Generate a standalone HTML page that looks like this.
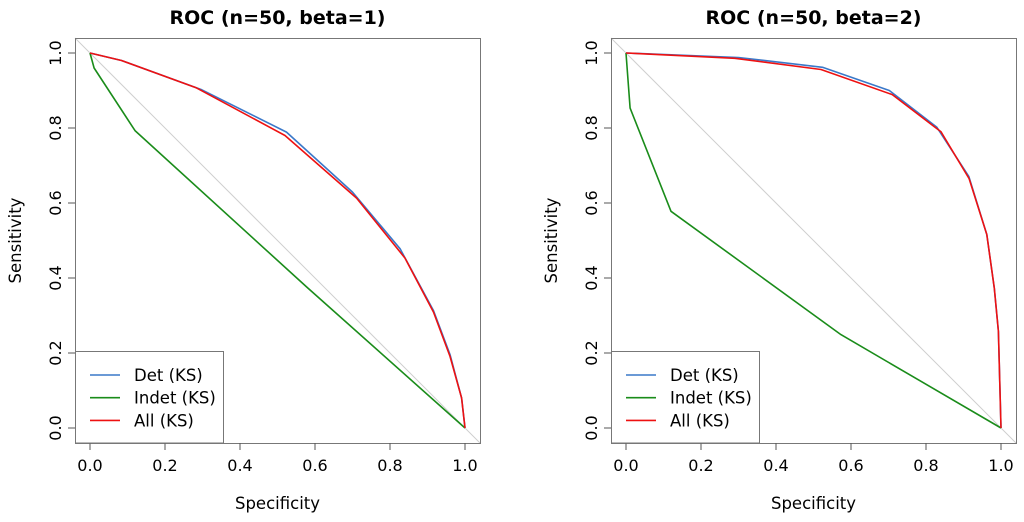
<!DOCTYPE html>
<html><head><meta charset="utf-8"><style>
body{margin:0;background:#fff;}
svg{display:block;font-family:"DejaVu Sans","Liberation Sans",sans-serif;}
</style></head><body>
<svg id="chart" width="1024" height="522" viewBox="0 0 1024 522"></svg>
<script>
const ticks=[0,0.2,0.4,0.6,0.8,1.0];
const tickLabels=["0.0","0.2","0.4","0.6","0.8","1.0"];
const seriesNames=["Det (KS)","Indet (KS)","All (KS)"];
const seriesColors=["#3a78c9","#1a8c1a","#ee1111"];
// panel 1 (beta=1)
const p1DetX=[0,0.084,0.298,0.524,0.70,0.827,0.916,0.96,0.991,1];
const p1DetY=[1,0.98,0.902,0.789,0.629,0.478,0.313,0.196,0.08,0];
const p1IndX=[0,0.011,0.12,0.579,1];
const p1IndY=[1,0.96,0.793,0.375,0];
const p1AllX=[0,0.084,0.284,0.52,0.711,0.84,0.916,0.96,0.991,1];
const p1AllY=[1,0.98,0.907,0.78,0.613,0.453,0.309,0.191,0.08,0];
// panel 2 (beta=2)
const p2DetX=[0,0.3,0.524,0.702,0.829,0.914,0.962,0.982,0.993,1];
const p2DetY=[1,0.988,0.962,0.9,0.802,0.671,0.516,0.373,0.258,0];
const p2IndX=[0,0.011,0.12,0.573,1];
const p2IndY=[1,0.853,0.578,0.249,0];
const p2AllX=[0,0.29,0.52,0.71,0.84,0.915,0.962,0.982,0.993,1];
const p2AllY=[1,0.986,0.956,0.889,0.79,0.665,0.516,0.373,0.258,0];
const titles=["ROC (n=50, beta=1)","ROC (n=50, beta=2)"];

const NS="http://www.w3.org/2000/svg";
const svg=document.getElementById('chart');
function mk(tag,attrs,parent,text){const e=document.createElementNS(NS,tag);for(const k in attrs)e.setAttribute(k,attrs[k]);if(text!==undefined)e.textContent=text;(parent||svg).appendChild(e);return e;}

function panel(ox,title,xs,ys,idx){
  const g=mk('g',{});
  
  
  const x0=ox+15,x1=ox+390,yT=53,yB=428;
  const sx=v=>x0+v*(x1-x0), sy=v=>yB-v*(yB-yT);
  const box={x:ox,y:38,w:405,h:405};
  const t=mk('text',{x:ox+202.5,y:24,'text-anchor':'middle','font-size':'19','font-weight':'bold'},g,title);
  
  
  const d=mk('line',{x1:box.x,y1:sy(1+(x0-box.x)/375),x2:box.x+box.w,y2:sy(-((box.x+box.w-x1)/375)),stroke:'#cfcfcf','stroke-width':1},g);
  
  
  for(let s=0;s<3;s++){
    const pts=xs[s].map((v,i)=>sx(v).toFixed(1)+','+sy(ys[s][i]).toFixed(1)).join(' ');
    const pl=mk('polyline',{points:pts,fill:'none',stroke:seriesColors[s],'stroke-width':1.6,'stroke-linejoin':'round'},g);
    
    
  }
  const fr=mk('rect',{x:box.x+0.5,y:box.y+0.5,width:box.w,height:box.h,fill:'none',stroke:'#777','stroke-width':1},g);
  
  
  ticks.forEach((v,i)=>{
    mk('line',{x1:sx(v),y1:443,x2:sx(v),y2:450,stroke:'#555'},g);
    const tx=mk('text',{x:sx(v),y:471,'text-anchor':'middle','font-size':'16'},g,tickLabels[i]);
    
    
    mk('line',{x1:ox-7,y1:sy(v),x2:ox,y2:sy(v),stroke:'#555'},g);
    const ty=mk('text',{x:0,y:0,'text-anchor':'middle','font-size':'16',transform:`translate(${ox-14},${sy(v)}) rotate(-90)`},g,tickLabels[i]);
    
    
  });
  const xl=mk('text',{x:ox+202.5,y:509,'text-anchor':'middle','font-size':'16.5'},g,'Specificity');
  
  
  const yl=mk('text',{x:0,y:0,'text-anchor':'middle','font-size':'16.5',transform:`translate(${ox-54},240.5) rotate(-90)`},g,'Sensitivity');
  
  
  const lg=mk('g',{},g);
  
  
  mk('rect',{x:ox+0.5,y:351.5,width:148,height:91.5,fill:'#fff',stroke:'#777'},lg);
  for(let s=0;s<3;s++){
    const ly=375+s*22.7;
    const e=mk('g',{},lg);
    
    
    mk('line',{x1:ox+15,y1:ly,x2:ox+45,y2:ly,stroke:seriesColors[s],'stroke-width':1.6},e);
    mk('text',{x:ox+59,y:ly+6,'font-size':'16.5'},e,seriesNames[s]);
  }
}
panel(75,titles[0],[p1DetX,p1IndX,p1AllX],[p1DetY,p1IndY,p1AllY],0);
panel(611,titles[1],[p2DetX,p2IndX,p2AllX],[p2DetY,p2IndY,p2AllY],1);
</script>
</body></html>
